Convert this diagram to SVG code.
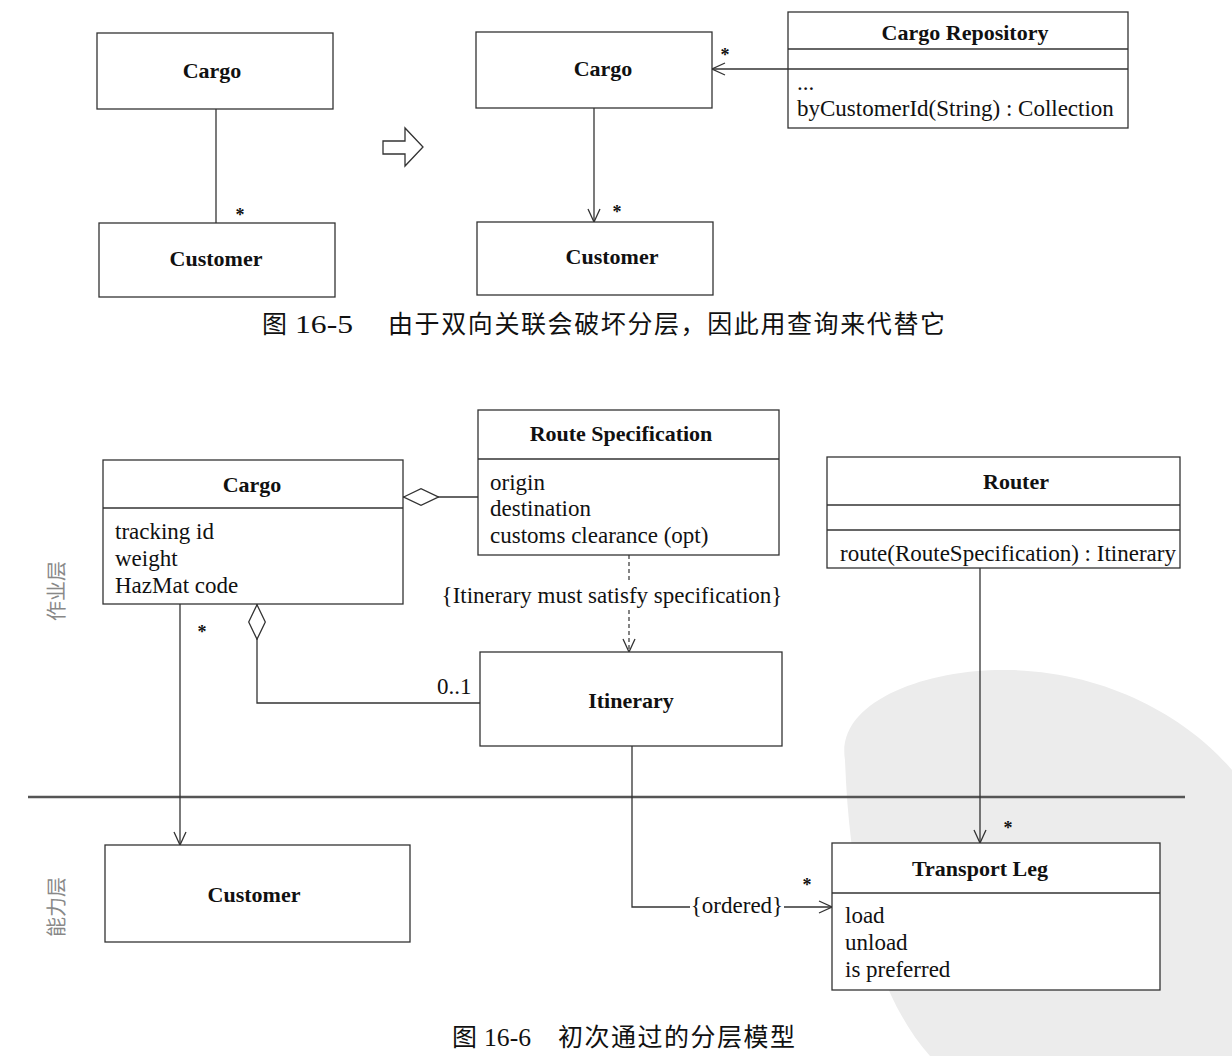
<svg xmlns="http://www.w3.org/2000/svg" width="1232" height="1056" viewBox="0 0 1232 1056">
<style>
.box{fill:#fff;stroke:#333;stroke-width:1.3}
.sep{stroke:#333;stroke-width:1.3;fill:none}
.ln{stroke:#333;stroke-width:1.3;fill:none}
.dash{stroke:#333;stroke-width:1.2;fill:none;stroke-dasharray:4 3}
.t{font-family:"Liberation Serif","Times New Roman",serif;font-size:23px;fill:#111}
.b{font-family:"Liberation Serif","Times New Roman",serif;font-size:22px;font-weight:bold;fill:#111;text-anchor:middle}
.star{font-family:"Liberation Serif",serif;font-size:18px;font-weight:bold;fill:#111;text-anchor:middle}
.cap{font-family:"Liberation Serif","Noto Sans CJK SC",serif;font-size:25px;fill:#111}
.side{font-family:"Noto Sans CJK SC",sans-serif;font-size:20px;fill:#888;text-anchor:middle}
</style>
<defs>
<marker id="open" viewBox="0 0 14 14" refX="14" refY="7" markerWidth="14" markerHeight="14" markerUnits="userSpaceOnUse" orient="auto">
<path d="M1,1 L14,7 L1,13" fill="none" stroke="#333" stroke-width="1.3"/>
</marker>
<marker id="diamond" viewBox="0 0 36 18" refX="0" refY="9" markerWidth="36" markerHeight="18" markerUnits="userSpaceOnUse" orient="auto">
<path d="M0.7,9 L18,0.7 L35.3,9 L18,17.3 Z" fill="#fff" stroke="#333" stroke-width="1.3"/>
</marker>
</defs>
<rect width="1232" height="1056" fill="#fff"/>
<g id="watermark">
<path d="M845,760 C835,700 930,668 1010,670 C1110,672 1190,720 1232,770 L1232,1056 L930,1056 C880,1000 850,900 845,760 Z" fill="#ececec"/>
</g>
<g id="layer-divider">
<line x1="28" y1="797" x2="1185" y2="797" stroke="#555" stroke-width="2.5"/>
</g>
<g id="connectors">
<line class="ln" x1="216" y1="109" x2="216" y2="223"/>
<polygon points="383,141 405,141 405,128 423,147 405,166 405,154 383,154" fill="#fff" stroke="#333" stroke-width="1.3"/>
<line class="ln" x1="594" y1="108" x2="594" y2="222" marker-end="url(#open)"/>
<line class="ln" x1="788" y1="69" x2="712" y2="69" marker-end="url(#open)"/>
<path class="ln" d="M403,497 L478,497" marker-start="url(#diamond)"/>
<path class="ln" d="M257,604 L257,703 L480,703" marker-start="url(#diamond)"/>
<line class="ln" x1="180" y1="604" x2="180" y2="845" marker-end="url(#open)"/>
<line class="dash" x1="629" y1="555" x2="629" y2="580"/>
<line class="dash" x1="629" y1="610" x2="629" y2="652" marker-end="url(#open)"/>
<line class="ln" x1="980" y1="568" x2="980" y2="843" marker-end="url(#open)"/>
<path class="ln" d="M632,746 L632,907 L690,907"/>
<line class="ln" x1="784" y1="907" x2="832" y2="907" marker-end="url(#open)"/>
<text class="star" x="240" y="221">*</text>
<text class="star" x="617" y="218">*</text>
<text class="star" x="725" y="61">*</text>
<text class="star" x="202" y="638">*</text>
<text class="star" x="1008" y="834">*</text>
<text class="star" x="807" y="891">*</text>
<text class="t" x="437" y="694">0..1</text>
<text class="t" x="612" y="603" text-anchor="middle">{Itinerary must satisfy specification}</text>
<text class="t" x="737" y="913" text-anchor="middle">{ordered}</text>
</g>
<g id="cargo-a">
<rect class="box" x="97" y="33" width="236" height="76"/>
<text class="b" x="212" y="78">Cargo</text>
</g>
<g id="customer-a">
<rect class="box" x="99" y="223" width="236" height="74"/>
<text class="b" x="216" y="266">Customer</text>
</g>
<g id="cargo-b">
<rect class="box" x="476" y="32" width="236" height="76"/>
<text class="b" x="603" y="76">Cargo</text>
</g>
<g id="customer-b">
<rect class="box" x="477" y="222" width="236" height="73"/>
<text class="b" x="612" y="264">Customer</text>
</g>
<g id="cargo-repository">
<rect class="box" x="788" y="12" width="340" height="116"/>
<line class="sep" x1="788" y1="49" x2="1128" y2="49"/>
<line class="sep" x1="788" y1="69" x2="1128" y2="69"/>
<text class="b" x="965" y="40">Cargo Repository</text>
<text class="t" x="797" y="90">...</text>
<text class="t" x="797" y="116">byCustomerId(String) : Collection</text>
</g>
<g id="cargo">
<rect class="box" x="103" y="460" width="300" height="144"/>
<line class="sep" x1="103" y1="508" x2="403" y2="508"/>
<text class="b" x="252" y="492">Cargo</text>
<text class="t" x="115" y="539">tracking id</text>
<text class="t" x="115" y="566">weight</text>
<text class="t" x="115" y="593">HazMat code</text>
</g>
<g id="route-specification">
<rect class="box" x="478" y="410" width="301" height="145"/>
<line class="sep" x1="478" y1="459" x2="779" y2="459"/>
<text class="b" x="621" y="441">Route Specification</text>
<text class="t" x="490" y="490">origin</text>
<text class="t" x="490" y="516">destination</text>
<text class="t" x="490" y="543">customs clearance (opt)</text>
</g>
<g id="router">
<rect class="box" x="827" y="457" width="353" height="111"/>
<line class="sep" x1="827" y1="505" x2="1180" y2="505"/>
<line class="sep" x1="827" y1="530" x2="1180" y2="530"/>
<text class="b" x="1016" y="489">Router</text>
<text class="t" x="840" y="561">route(RouteSpecification) : Itinerary</text>
</g>
<g id="itinerary">
<rect class="box" x="480" y="652" width="302" height="94"/>
<text class="b" x="631" y="708">Itinerary</text>
</g>
<g id="customer">
<rect class="box" x="105" y="845" width="305" height="97"/>
<text class="b" x="254" y="902">Customer</text>
</g>
<g id="transport-leg">
<rect class="box" x="832" y="843" width="328" height="147"/>
<line class="sep" x1="832" y1="893" x2="1160" y2="893"/>
<text class="b" x="980" y="876">Transport Leg</text>
<text class="t" x="845" y="923">load</text>
<text class="t" x="845" y="950">unload</text>
<text class="t" x="845" y="977">is preferred</text>
</g>
<g id="layer-labels">
<text class="side" transform="translate(64,591) rotate(-90)">作业层</text>
<text class="side" transform="translate(64,907) rotate(-90)">能力层</text>
</g>
<g id="captions">
<text class="cap" x="262" y="333">图</text>
<text class="cap" x="295" y="333" textLength="58" lengthAdjust="spacingAndGlyphs">16-5</text>
<text class="cap" x="388" y="333" textLength="557">由于双向关联会破坏分层，因此用查询来代替它</text>
<text class="cap" x="452" y="1046">图</text>
<text class="cap" x="484" y="1046" textLength="47" lengthAdjust="spacingAndGlyphs">16-6</text>
<text class="cap" x="558" y="1046" textLength="237">初次通过的分层模型</text>
</g>
</svg>
